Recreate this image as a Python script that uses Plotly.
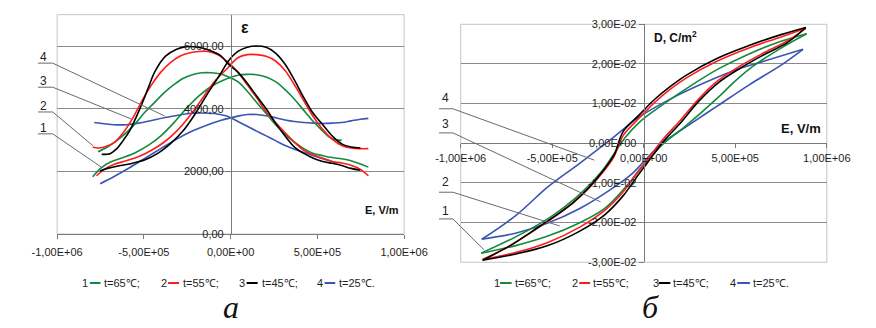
import plotly.graph_objects as go

W, H = 876, 328
def PX(x): return x / W
def PY(y): return 1 - y / H

# ---------------- axis ticks ----------------
E_tick_vals = [-1e6, -5e5, 0, 5e5, 1e6]
E_tick_text = ["-1,00E+06", "-5,00E+05", "0,00E+00", "5,00E+05", "1,00E+06"]
eps_tick_vals = [0, 2000, 4000, 6000]
eps_tick_text = ["0,00", "2000,00", "4000,00", "6000,00"]
D_tick_vals = [-0.03, -0.02, -0.01, 0, 0.01, 0.02, 0.03]
D_tick_text = ["-3,00E-02", "-2,00E-02", "-1,00E-02", "0,00E+00", "1,00E-02", "2,00E-02", "3,00E-02"]

# ---------------- data: permittivity ε(E) (left) ----------------
# 45 C (black)
E_45_down = [-7.43e5, -6.92e5, -6.56e5, -6.20e5, -5.83e5, -5.23e5, -4.75e5, -4.38e5, -3.75e5, -3.11e5, -2.57e5, -1.84e5, -1.30e5, -5.8e4,
             -1.25e4, 4.2e4, 9.6e4, 1.5e5, 2.05e5, 2.59e5, 3.14e5, 3.68e5, 4.22e5, 4.77e5, 5.31e5, 5.85e5, 6.40e5, 6.94e5, 7.48e5]
eps_45_down = [2542, 2573, 2725, 2980, 3285, 4000, 4658, 5166, 5675, 5898, 5980, 5959, 5878, 5695,
               5420, 5166, 4810, 4403, 3997, 3539, 3132, 2776, 2573, 2420, 2318, 2257, 2186, 2095, 2034]
E_45_up = [-7.52e5, -7.10e5, -6.56e5, -5.83e5, -4.93e5, -4.20e5, -3.48e5, -2.75e5, -2.03e5, -1.30e5, -5.8e4,
           -1.25e4, 4.2e4, 9.6e4, 1.5e5, 2.05e5, 2.59e5, 3.14e5, 3.68e5, 4.22e5, 4.77e5, 5.31e5, 5.85e5, 6.40e5, 6.94e5, 7.48e5]
eps_45_up = [2013, 2095, 2166, 2237, 2369, 2573, 2878, 3285, 3844, 4505, 5115,
             5522, 5827, 5959, 6000, 5959, 5776, 5420, 4912, 4352, 3844, 3488, 3132, 2878, 2776, 2746]

# 55 C (red)
E_55_down = [-7.95e5, -7.65e5, -7.28e5, -6.74e5, -6.19e5, -5.65e5, -5.11e5, -4.56e5, -4.02e5, -3.47e5, -2.93e5, -2.39e5, -1.84e5, -1.30e5, -7.6e4,
             -1.25e4, 4.2e4, 9.6e4, 1.5e5, 2.05e5, 2.59e5, 3.14e5, 3.68e5, 4.22e5, 4.77e5, 5.31e5, 5.85e5, 6.40e5, 6.94e5, 7.48e5, 7.94e5]
eps_55_down = [2776, 2746, 2776, 2908, 3234, 3692, 4251, 4759, 5166, 5471, 5675, 5776, 5827, 5827, 5725,
               5471, 5166, 4759, 4352, 3895, 3559, 3234, 2929, 2675, 2522, 2420, 2318, 2267, 2196, 2064, 1861]
E_55_up = [-7.73e5, -7.28e5, -6.74e5, -6.01e5, -5.29e5, -4.56e5, -3.84e5, -3.11e5, -2.39e5, -1.66e5, -9.4e4, -2.2e4,
           4.2e4, 9.6e4, 1.5e5, 2.05e5, 2.59e5, 3.14e5, 3.68e5, 4.22e5, 4.77e5, 5.31e5, 5.85e5, 6.40e5, 6.94e5, 7.48e5, 7.94e5]
eps_55_up = [1861, 2064, 2217, 2339, 2471, 2675, 2929, 3285, 3742, 4302, 4861, 5268,
             5624, 5725, 5725, 5675, 5522, 5217, 4759, 4251, 3742, 3336, 3030, 2827, 2746, 2725, 2725]

# 65 C (green)
E_65_down = [-7.64e5, -7.10e5, -6.56e5, -6.01e5, -5.47e5, -4.93e5, -4.38e5, -3.84e5, -3.29e5, -2.75e5, -2.21e5, -1.66e5, -1.12e5, -5.8e4,
             -1.25e4, 4.2e4, 9.6e4, 1.5e5, 2.05e5, 2.59e5, 3.14e5, 3.68e5, 4.22e5, 4.77e5, 5.31e5, 5.85e5, 6.40e5, 6.94e5, 7.48e5, 7.94e5]
eps_65_down = [2624, 2776, 2980, 3234, 3539, 3895, 4200, 4505, 4759, 4963, 5085, 5146, 5146, 5105,
               5014, 4861, 4556, 4200, 3844, 3488, 3183, 2929, 2725, 2573, 2502, 2441, 2400, 2339, 2237, 2135]
E_65_up = [-7.95e5, -7.46e5, -6.92e5, -6.19e5, -5.47e5, -4.75e5, -4.02e5, -3.29e5, -2.57e5, -1.84e5, -1.12e5, -3.9e4,
           4.2e4, 9.6e4, 1.5e5, 2.05e5, 2.59e5, 3.14e5, 3.68e5, 4.22e5, 4.77e5, 5.31e5, 5.85e5, 6.40e5]
eps_65_up = [1830, 2115, 2298, 2441, 2603, 2827, 3132, 3539, 3997, 4403, 4708, 4912,
             5064, 5095, 5085, 5014, 4861, 4607, 4302, 3946, 3590, 3285, 3040, 2990]

# 25 C (blue)
E_25_down = [-7.86e5, -7.28e5, -6.74e5, -6.01e5, -5.29e5, -4.56e5, -3.84e5, -3.11e5, -2.39e5, -1.66e5, -9.4e4, -2.2e4,
             4.2e4, 9.6e4, 1.5e5, 2.05e5, 2.59e5, 3.14e5, 3.68e5, 4.22e5, 4.77e5, 5.31e5, 5.85e5, 6.13e5]
eps_25_down = [3559, 3519, 3488, 3488, 3539, 3620, 3712, 3783, 3844, 3864, 3844, 3763,
               3590, 3437, 3285, 3132, 2980, 2827, 2705, 2603, 2502, 2400, 2318, 2267]
E_25_up = [-7.52e5, -6.74e5, -5.83e5, -4.93e5, -4.02e5, -3.11e5, -2.21e5, -1.30e5, -5.8e4,
           -1.25e4, 4.2e4, 9.6e4, 1.5e5, 2.05e5, 2.59e5, 3.14e5, 3.68e5, 4.22e5, 4.77e5, 5.31e5, 5.85e5, 6.40e5, 6.94e5, 7.48e5, 7.94e5]
eps_25_up = [1607, 1830, 2115, 2420, 2725, 3030, 3285, 3488, 3620,
             3691, 3763, 3814, 3814, 3773, 3712, 3641, 3590, 3559, 3539, 3529, 3539, 3559, 3610, 3661, 3691]

# ---------------- data: hysteresis D(E) (right) ----------------
E_45_hd = [8.85e5, 7.5e5, 5.78e5, 4.05e5, 2.33e5, 1.47e5, 6.0e4, -2.6e4, -1.12e5, -1.63e5, -2.32e5, -3.0e5, -3.87e5, -4.9e5, -6.1e5, -7.3e5, -8.8e5]
D_45_hd = [0.0292, 0.0274, 0.0247, 0.0215, 0.0172, 0.0144, 0.0111, 0.0071, 0.0030, -0.0030, -0.0075, -0.0112, -0.0150, -0.0185, -0.0222, -0.0258, -0.0295]
E_45_hu = [-8.8e5, -6.96e5, -5.24e5, -3.52e5, -2.15e5, -1.12e5, -4.3e4, 1.7e4, 1.03e5, 1.98e5, 3.02e5, 4.05e5, 5.26e5, 6.47e5, 7.84e5, 8.85e5]
D_45_hu = [-0.0295, -0.0279, -0.0258, -0.0222, -0.0181, -0.0132, -0.0088, -0.0051, 0.0002, 0.0050, 0.0107, 0.0152, 0.0189, 0.0221, 0.0254, 0.0292]

E_55_hd = [8.85e5, 7.5e5, 5.78e5, 4.05e5, 2.33e5, 1.47e5, 6.0e4, -2.6e4, -1.12e5, -1.63e5, -2.32e5, -3.0e5, -3.87e5, -4.9e5, -6.1e5, -7.3e5, -8.8e5]
D_55_hd = [0.0290, 0.0268, 0.0241, 0.0208, 0.0165, 0.0137, 0.0103, 0.0063, 0.0020, -0.0034, -0.0078, -0.0113, -0.0150, -0.0186, -0.0223, -0.0258, -0.0293]
E_55_hu = [-8.8e5, -6.96e5, -5.24e5, -3.52e5, -2.15e5, -1.12e5, -4.3e4, 1.7e4, 1.03e5, 1.98e5, 3.02e5, 4.05e5, 5.26e5, 6.47e5, 7.84e5, 8.85e5]
D_55_hu = [-0.0293, -0.0275, -0.0250, -0.0212, -0.0170, -0.0122, -0.0078, -0.0043, 0.0009, 0.0057, 0.0113, 0.0158, 0.0195, 0.0226, 0.0258, 0.0290]

E_65_hd = [8.9e5, 7.5e5, 5.78e5, 4.05e5, 2.33e5, 6.0e4, -2.6e4, -1.0e5, -2.35e5, -3.7e5, -5.1e5, -7.0e5, -8.88e5]
D_65_hd = [0.0276, 0.0257, 0.0226, 0.0187, 0.0138, 0.0083, 0.0052, 0.0015, -0.0074, -0.0137, -0.0186, -0.0236, -0.0277]
E_65_hu = [-8.88e5, -7.0e5, -5.24e5, -3.52e5, -2.15e5, -9.4e4, 8.6e3, 1.1e5, 2.33e5, 4.05e5, 4.9e5, 5.9e5, 7.5e5, 8.9e5]
D_65_hu = [-0.0277, -0.0258, -0.0234, -0.0201, -0.0165, -0.0108, -0.0051, 0.0000, 0.0045, 0.0115, 0.0153, 0.0192, 0.0240, 0.0276]

E_25_hd = [8.7e5, 6.64e5, 4.91e5, 3.19e5, 1.47e5, -2.6e4, -1.8e5, -3.52e5, -5.24e5, -6.96e5, -8.85e5]
D_25_hd = [0.0237, 0.0208, 0.0183, 0.0150, 0.0112, 0.0066, 0.0010, -0.0051, -0.0110, -0.0181, -0.0242]
E_25_hu = [-8.85e5, -6.96e5, -5.24e5, -3.52e5, -1.8e5, -6.0e4, 8.6e3, 9.5e4, 2.33e5, 4.05e5, 5.78e5, 7.5e5, 8.7e5]
D_25_hu = [-0.0242, -0.0226, -0.0201, -0.0165, -0.0116, -0.0075, -0.0042, -0.0002, 0.0042, 0.0095, 0.0148, 0.0197, 0.0237]

legend_numbers = ["1", "2", "3", "4"]
legend_labels = ["t=65℃;", "t=55℃;", "t=45℃;", "t=25℃."]

GREEN, RED, BLACK, BLUE = "#138a3e", "#ff1c1c", "#000000", "#3a55b4"
colors = [GREEN, RED, BLACK, BLUE]

left_series = [(E_65_down, eps_65_down, E_65_up, eps_65_up),
               (E_55_down, eps_55_down, E_55_up, eps_55_up),
               (E_45_down, eps_45_down, E_45_up, eps_45_up),
               (E_25_down, eps_25_down, E_25_up, eps_25_up)]
right_series = [(E_65_hd, D_65_hd, E_65_hu, D_65_hu),
                (E_55_hd, D_55_hd, E_55_hu, D_55_hu),
                (E_45_hd, D_45_hd, E_45_hu, D_45_hu),
                (E_25_hd, D_25_hd, E_25_hu, D_25_hu)]

fig = go.Figure()
draw_order = [3, 0, 1, 2]
for i in draw_order:
    xa, ya, xb, yb = left_series[i]
    fig.add_trace(go.Scatter(x=list(xa) + [None] + list(xb), y=list(ya) + [None] + list(yb),
                             mode="lines", line=dict(color=colors[i], width=1.6, shape="spline", smoothing=1.0),
                             connectgaps=False, xaxis="x", yaxis="y", showlegend=False, hoverinfo="skip"))
for i in draw_order:
    xa, ya, xb, yb = right_series[i]
    fig.add_trace(go.Scatter(x=list(xa) + [None] + list(xb), y=list(ya) + [None] + list(yb),
                             mode="lines", line=dict(color=colors[i], width=1.6, shape="spline", smoothing=1.0),
                             connectgaps=False, xaxis="x2", yaxis="y2", showlegend=False, hoverinfo="skip"))

TICKFONT = dict(family="Liberation Sans, Arial, sans-serif", size=11, color="#1e1e1e")
AX = "#7a7a7a"
GRID = "#8a8a8a"

L_dom_x = [PX(33), PX(401)]
L_dom_y = [PY(236.7), PY(9)]
R_dom_x = [PX(461), PX(849.3)]
R_dom_y = [PY(266), PY(19)]

fig.update_layout(
    width=W, height=H, margin=dict(l=0, r=0, t=0, b=0),
    paper_bgcolor="white", plot_bgcolor="white", showlegend=False,
    xaxis=dict(domain=L_dom_x, range=[-1e6, 1e6], anchor="y", tickvals=E_tick_vals, ticktext=E_tick_text,
               ticks="outside", ticklen=4, tickcolor=AX, showline=True, linecolor=AX, showgrid=False,
               zeroline=False, tickfont=TICKFONT, ticklabelstandoff=4),
    yaxis=dict(domain=L_dom_y, range=[0, 7000], anchor="free", position=PX(217.3), tickvals=eps_tick_vals,
               ticktext=eps_tick_text, ticks="outside", ticklen=5, tickcolor=AX, showline=True, linecolor=AX,
               showgrid=True, gridcolor=GRID, gridwidth=1, zeroline=False, tickfont=TICKFONT),
    xaxis2=dict(domain=R_dom_x, range=[-1e6, 1e6], anchor="free", position=PY(142.7), tickvals=E_tick_vals,
                ticktext=E_tick_text, ticks="outside", ticklen=4, tickcolor=AX, showline=True, linecolor=AX,
                showgrid=False, zeroline=False, tickfont=TICKFONT),
    yaxis2=dict(domain=R_dom_y, range=[-0.03, 0.03], anchor="free", position=PX(655), tickvals=D_tick_vals,
                ticktext=D_tick_text, ticks="outside", ticklen=5, tickcolor=AX, showline=True, linecolor=AX,
                showgrid=True, gridcolor=GRID, gridwidth=1, zeroline=False, tickfont=TICKFONT),
)

shapes = []
# plot-area frames
shapes.append(dict(type="rect", xref="x domain", yref="y domain", x0=0, x1=1, y0=0, y1=1,
                   line=dict(color="#c4c4c4", width=1), layer="below"))
shapes.append(dict(type="rect", xref="x2 domain", yref="y2 domain", x0=0, x1=1, y0=0, y1=1,
                   line=dict(color="#c4c4c4", width=1), layer="below"))

annotations = []
LEAD = "#6a6a6a"
# leader lines: (label, label y, underline y, end x, end y)
leaders_left = [("4", 53, 59.3, 146.7, 114), ("3", 78, 84.3, 111.7, 117.3),
                ("2", 104, 110, 71, 145), ("1", 127, 132.7, 80, 167.3)]
for lab, ty, uy, ex, ey in leaders_left:
    shapes.append(dict(type="line", xref="paper", yref="paper", x0=PX(12.7), x1=PX(28.3), y0=PY(uy), y1=PY(uy),
                       line=dict(color=LEAD, width=1)))
    shapes.append(dict(type="line", xref="paper", yref="paper", x0=PX(28.3), x1=PX(ex), y0=PY(uy), y1=PY(ey),
                       line=dict(color=LEAD, width=1)))
    annotations.append(dict(text=lab, x=PX(18.3), y=PY(ty), xref="paper", yref="paper", showarrow=False,
                            xanchor="center", yanchor="middle",
                            font=dict(family="Liberation Sans, Arial", size=12, color="#222")))
leaders_right = [("4", 95, 106.7, 602.7, 160), ("3", 122, 131.7, 609.3, 203.3),
                 ("2", 183, 193.3, 566, 228.3), ("1", 213, 221, 486, 253.3)]
for lab, ty, uy, ex, ey in leaders_right:
    shapes.append(dict(type="line", xref="paper", yref="paper", x0=PX(438), x1=PX(452.7), y0=PY(uy), y1=PY(uy),
                       line=dict(color=LEAD, width=1)))
    shapes.append(dict(type="line", xref="paper", yref="paper", x0=PX(452.7), x1=PX(ex), y0=PY(uy), y1=PY(ey),
                       line=dict(color=LEAD, width=1)))
    annotations.append(dict(text=lab, x=PX(445.3), y=PY(ty), xref="paper", yref="paper", showarrow=False,
                            xanchor="center", yanchor="middle",
                            font=dict(family="Liberation Sans, Arial", size=12, color="#222")))

# custom legends
LEGFONT = dict(family="Liberation Sans, Arial", size=11, color="#1e1e1e")
LEG_Y = 287.5
leg_left = [(63, 67.7, 79, 81), (146, 150.7, 162.3, 164), (229.5, 234, 245.7, 247.7), (311.5, 316.7, 328, 330)]
leg_right = [(499.5, 502.7, 515, 516.5), (582, 586.7, 598.3, 599.5), (668, 671, 683.3, 684.5), (750, 754.3, 767.7, 769)]
for legset in (leg_left, leg_right):
    for k, (nx, l0, l1, tx) in enumerate(legset):
        annotations.append(dict(text=legend_numbers[k], x=PX(nx), y=PY(LEG_Y), xref="paper", yref="paper",
                                showarrow=False, xanchor="center", yanchor="middle", font=LEGFONT))
        shapes.append(dict(type="line", xref="paper", yref="paper", x0=PX(l0), x1=PX(l1), y0=PY(LEG_Y), y1=PY(LEG_Y),
                           line=dict(color=colors[k], width=2)))
        annotations.append(dict(text=legend_labels[k], x=PX(tx), y=PY(LEG_Y), xref="paper", yref="paper",
                                showarrow=False, xanchor="left", yanchor="middle", font=LEGFONT))

# axis titles and captions
CAPFONT = dict(family="Liberation Serif, Times New Roman, serif", size=32, color="#111")
annotations += [
    dict(text="<b>ε</b>", x=PX(232.5), y=PY(22), xref="paper", yref="paper", showarrow=False,
         xanchor="center", yanchor="middle", font=dict(family="Liberation Sans, Arial", size=16, color="#111")),
    dict(text="<b>E, V/m</b>", x=PX(378), y=PY(211.5), xref="paper", yref="paper", showarrow=False,
         xanchor="center", yanchor="middle", font=dict(family="Liberation Sans, Arial", size=11, color="#111")),
    dict(text="<b>D, C/m<sup>2</sup></b>", x=PX(663.5), y=PY(32.5), xref="paper", yref="paper", showarrow=False,
         xanchor="left", yanchor="middle", font=dict(family="Liberation Sans, Arial", size=12, color="#111")),
    dict(text="<b>E, V/m</b>", x=PX(821.5), y=PY(127.5), xref="paper", yref="paper", showarrow=False,
         xanchor="center", yanchor="middle", font=dict(family="Liberation Sans, Arial", size=13, color="#111")),
    dict(text="<i>а</i>", x=PX(217.3), y=PY(312), xref="paper", yref="paper", showarrow=False,
         xanchor="center", yanchor="middle", height=32, valign="middle", borderpad=0, font=CAPFONT),
    dict(text="<i>б</i>", x=PX(662.7), y=PY(312), xref="paper", yref="paper", showarrow=False,
         xanchor="center", yanchor="middle", height=32, valign="middle", borderpad=0, font=CAPFONT),
]

fig.update_layout(shapes=shapes, annotations=annotations)
fig.write_html("out.html")
